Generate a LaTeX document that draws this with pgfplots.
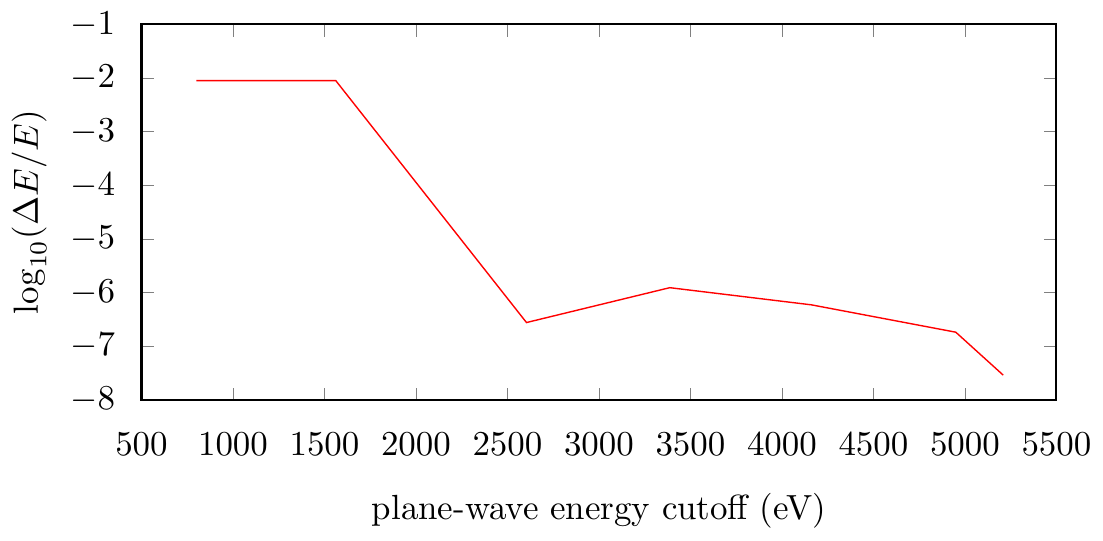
\documentclass[border=0pt]{standalone}
\usepackage{pgfplots}
\pgfplotsset{compat=1.18}
\begin{document}
\begin{tikzpicture}
\begin{axis}[
scale only axis,
width=262pt, height=107.5pt,
xmin=500, xmax=5500, ymin=-8, ymax=-1,
xtick={500,1000,...,5500},
ytick={-8,-7,...,-1},
tick align=inside,
xtick pos=both, ytick pos=both,
major tick length=3.5pt,
/pgf/number format/1000 sep={},
xticklabel shift=6pt,
yticklabel shift=4pt,
xlabel={plane-wave energy cutoff (eV)},
ylabel={$\log_{10}(\Delta E/E)$},
xlabel style={yshift=-4pt},
ylabel style={yshift=0pt},
axis line style={line width=0.6pt},
]
\addplot[red, line width=0.4pt, mark=none] coordinates {
(800,-2.05)
(1562,-2.05)
(2604,-6.56)
(3387,-5.91)
(4161,-6.23)
(4950,-6.74)
(5209,-7.54)
};
\end{axis}
\end{tikzpicture}
\end{document}
